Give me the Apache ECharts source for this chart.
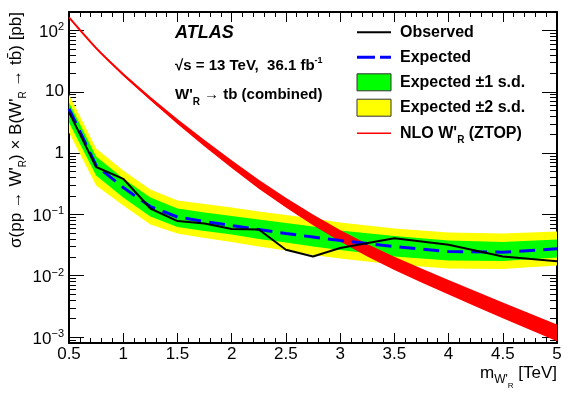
<!DOCTYPE html>
<html><head><meta charset="utf-8">
<script src="https://cdn.jsdelivr.net/npm/echarts@6/dist/echarts.min.js"></script>
<style>html,body{margin:0;padding:0;background:#fff}#chart{width:581px;height:395px}</style>
</head><body><div id="chart"></div>
<script>
// ---- data ----
const massPoints = [0.5, 0.75, 1.0, 1.25, 1.5, 1.75, 2.0, 2.25, 2.5, 2.75, 3.0, 3.5, 4.0, 4.5, 5.0];
const observedLimit = [4.65, 0.593, 0.381, 0.125, 0.078, 0.0711, 0.0578, 0.0567, 0.0265, 0.0206, 0.0283, 0.0409, 0.0319, 0.0206, 0.0173];
const expectedLimit = [5.28, 0.628, 0.275, 0.1345, 0.0907, 0.0766, 0.0659, 0.0567, 0.0488, 0.0428, 0.0375, 0.0299, 0.0248, 0.0242, 0.0275];
const expectedPlus1 = [6.69, 0.880, 0.385, 0.1887, 0.1248, 0.1074, 0.0942, 0.0826, 0.0724, 0.0635, 0.0546, 0.0444, 0.0375, 0.0355, 0.0390];
const expectedMinus1 = [3.16, 0.431, 0.1887, 0.0924, 0.0623, 0.0536, 0.0470, 0.0397, 0.0348, 0.0300, 0.0262, 0.0206, 0.0177, 0.0174, 0.0198];
const expectedPlus2 = [9.04, 1.19, 0.520, 0.255, 0.1686, 0.1478, 0.1296, 0.1115, 0.0978, 0.0857, 0.0738, 0.0589, 0.0507, 0.0488, 0.0526];
const expectedMinus2 = [2.17, 0.296, 0.1397, 0.0684, 0.0488, 0.0412, 0.0355, 0.0300, 0.0258, 0.0218, 0.0191, 0.0152, 0.0131, 0.0129, 0.0147];

const theoryMass = [0.5, 0.75, 1.0, 1.25, 1.5, 1.75, 2.0, 2.25, 2.5, 2.75, 3.0, 3.25, 3.5, 3.75, 4.0, 4.25, 4.5, 4.75, 5.0];
const theoryXsec = [163, 51.5, 19.14, 7.76, 3.27, 1.445, 0.661, 0.3105, 0.1556, 0.0817, 0.0449, 0.0261, 0.0159, 0.01005, 0.00649, 0.00419, 0.00272, 0.00178, 0.001167];
const theoryHigh = [165.4, 52.8, 20.0, 8.30, 3.60, 1.633, 0.767, 0.368, 0.1875, 0.1001, 0.0559, 0.0330, 0.0204, 0.01307, 0.00853, 0.00557, 0.00366, 0.00242, 0.0016];
const theoryLow = [160.6, 50.2, 18.32, 7.25, 2.97, 1.279, 0.570, 0.262, 0.1291, 0.0667, 0.0361, 0.0206, 0.01237, 0.00773, 0.00494, 0.00315, 0.00202, 0.00131, 0.000852];

const yMajorTicks = [0.001, 0.01, 0.1, 1, 10, 100];
const yMinorTicks = [0.0008, 0.0009,
  0.002, 0.003, 0.004, 0.005, 0.006, 0.007, 0.008, 0.009,
  0.02, 0.03, 0.04, 0.05, 0.06, 0.07, 0.08, 0.09,
  0.2, 0.3, 0.4, 0.5, 0.6, 0.7, 0.8, 0.9,
  2, 3, 4, 5, 6, 7, 8, 9,
  20, 30, 40, 50, 60, 70, 80, 90];

const legendLabels = ['Observed', 'Expected', 'Expected \u00b11 s.d.', 'Expected \u00b12 s.d.'];

// ---- chart ----
const FONT = "'Liberation Sans', Arial, Helvetica, sans-serif";
const chart = echarts.init(document.getElementById('chart'), null, {renderer: 'canvas'});

function pairs(xs, ys) { return xs.map((x, i) => [x, ys[i]]); }

function bandSeries(xs, lo, hi, color) {
  return {
    type: 'custom', xAxisIndex: 0, yAxisIndex: 0, silent: true, clip: true,
    data: [[xs[0], lo[0]]],
    renderItem: function (params, api) {
      const pts = [];
      for (let i = 0; i < xs.length; i++) pts.push(api.coord([xs[i], hi[i]]));
      for (let i = xs.length - 1; i >= 0; i--) pts.push(api.coord([xs[i], lo[i]]));
      return {type: 'polygon', shape: {points: pts}, style: {fill: color, stroke: null}};
    }
  };
}

function fmtY(v) {
  const l = Math.log10(v);
  const n = Math.round(l);
  if (Math.abs(l - n) > 1e-6) return '';
  if (n === 0) return '{p|1}';
  if (n === 1) return '{p|10}';
  return '{b|10}{s|' + (n < 0 ? '\u2212' + (-n) : String(n)) + '}';
}

const axisLineStyle = {color: '#000', width: 2};
const tickStyle = {color: '#000', width: 1};

function xAxisDef(pos, showLabels) {
  return {
    type: 'value', position: pos, min: 0.5, max: 5, interval: 0.5,
    axisLine: {show: true, onZero: false, lineStyle: axisLineStyle},
    axisTick: {show: true, inside: true, length: 10, lineStyle: tickStyle},
    minorTick: {show: true, splitNumber: 5, length: 5, lineStyle: tickStyle},
    axisLabel: {show: showLabels, margin: 3, color: '#000', fontSize: 17, fontFamily: FONT},
    splitLine: {show: false}, minorSplitLine: {show: false}
  };
}

function yAxisDef(pos, ticks, len, showLine, showLabels) {
  return {
    type: 'log', logBase: 10, position: pos, min: 0.0008, max: 200,
    axisLine: {show: showLine, onZero: false, lineStyle: axisLineStyle},
    axisTick: {show: true, inside: true, length: len, customValues: ticks, lineStyle: tickStyle},
    axisLabel: {
      show: showLabels, customValues: ticks, margin: 5, formatter: fmtY,
      rich: {
        p: {fontSize: 17, fontFamily: FONT, color: '#000'},
        b: {fontSize: 17, fontFamily: FONT, color: '#000', padding: [4, 0, 0, 0]},
        s: {fontSize: 11, fontFamily: FONT, color: '#000', padding: [0, 0, 6, 0]}
      }
    },
    splitLine: {show: false}, minorTick: {show: false}
  };
}

function rs(size, weight, extra) {
  return Object.assign({fontSize: size, fontFamily: FONT, fontWeight: weight, fill: '#000'}, extra || {});
}

const LX0 = 357, LX1 = 391, LTX = 400;
const rows = [32.3, 57.3, 82.3, 107.7, 133.3];

const graphic = [
  // legend
  {type: 'line', shape: {x1: LX0, y1: rows[0], x2: LX1, y2: rows[0]}, style: {stroke: '#000', lineWidth: 2}},
  {type: 'line', shape: {x1: LX0, y1: rows[1], x2: LX1, y2: rows[1]}, style: {stroke: '#0000ff', lineWidth: 3, lineDash: [18, 5]}},
  {type: 'rect', shape: {x: LX0, y: rows[2] - 8.5, width: LX1 - LX0, height: 17}, style: {fill: '#00ff00', stroke: '#333', lineWidth: 1}},
  {type: 'rect', shape: {x: LX0, y: rows[3] - 8.5, width: LX1 - LX0, height: 17}, style: {fill: '#ffff00', stroke: '#333', lineWidth: 1}},
  {type: 'line', shape: {x1: LX0, y1: rows[4], x2: LX1, y2: rows[4]}, style: {stroke: '#ff0000', lineWidth: 1.5}},
  ...legendLabels.map((t, i) => ({type: 'text', x: LTX, y: rows[i],
      style: {text: t, font: 'bold 16px ' + FONT, fill: '#000', verticalAlign: 'middle', align: 'left'}})),
  {type: 'text', x: LTX, y: rows[4], style: {
      text: "{n|NLO W'}{s|R}{n| (ZTOP)}", verticalAlign: 'middle', align: 'left',
      rich: {n: rs(16, 'bold'), s: rs(10, 'bold', {padding: [14, 0, 0, 0]})}}},
  // annotations
  {type: 'text', x: 175, y: 33, style: {text: 'ATLAS', font: 'italic bold 18px ' + FONT, fill: '#000', verticalAlign: 'middle', align: 'left'}},
  {type: 'text', x: 175, y: 66, style: {
      text: '{n|\u221As = 13 TeV,  36.1 fb}{s|-1}', verticalAlign: 'middle', align: 'left',
      rich: {n: rs(15, 'bold'), s: rs(9, 'bold', {padding: [0, 0, 10, 0]})}}},
  {type: 'text', x: 175, y: 95, style: {
      text: "{n|W'}{s|R}{n| \u2192 tb (combined)}", verticalAlign: 'middle', align: 'left',
      rich: {n: rs(15, 'bold'), s: rs(10, 'bold', {padding: [14, 0, 0, 0]})}}},
  // axis titles
  {type: 'text', x: 557, y: 373, style: {
      text: "{n|m}{a|W'}{b|R}{n| [TeV]}", verticalAlign: 'middle', align: 'right',
      rich: {n: rs(17, 'normal'), a: rs(12, 'normal', {padding: [14, 0, 0, 0]}), b: rs(8, 'normal', {padding: [26, 0, 0, 0]})}}},
  {type: 'text', x: 16, y: 12, rotation: Math.PI / 2, style: {
      text: "{n|\u03c3(pp \u2192 W'}{s|R}{n|) \u00d7 B(W'}{s|R}{n| \u2192 tb\u0304) [pb]}", verticalAlign: 'middle', align: 'right',
      rich: {n: rs(17, 'normal'), s: rs(10, 'normal', {padding: [14, 0, 0, 0]})}}}
];

const option = {
  animation: false,
  backgroundColor: '#fff',
  grid: {left: 69, right: 24, top: 12, bottom: 52, containLabel: false},
  xAxis: [xAxisDef('bottom', true), xAxisDef('top', false)],
  yAxis: [
    yAxisDef('left', yMajorTicks, 15, true, true),
    yAxisDef('left', yMinorTicks, 7, false, false),
    yAxisDef('right', yMajorTicks, 15, true, false),
    yAxisDef('right', yMinorTicks, 7, false, false)
  ],
  series: [
    bandSeries(massPoints, expectedMinus2, expectedPlus2, '#ffff00'),
    bandSeries(massPoints, expectedMinus1, expectedPlus1, '#00ff00'),
    bandSeries(theoryMass, theoryLow, theoryHigh, '#ff0000'),
    {type: 'line', name: 'NLO', data: pairs(theoryMass, theoryXsec), smooth: 0.25, symbol: 'none',
      lineStyle: {color: '#ff0000', width: 2}, silent: true},
    {type: 'line', name: 'Expected', data: pairs(massPoints, expectedLimit), symbol: 'none',
      lineStyle: {color: '#0000ff', width: 3, type: [16, 8]}, silent: true},
    {type: 'line', name: 'Observed', data: pairs(massPoints, observedLimit), symbol: 'none',
      lineStyle: {color: '#000', width: 2}, silent: true}
  ],
  graphic: graphic
};
chart.setOption(option);
</script></body></html>
